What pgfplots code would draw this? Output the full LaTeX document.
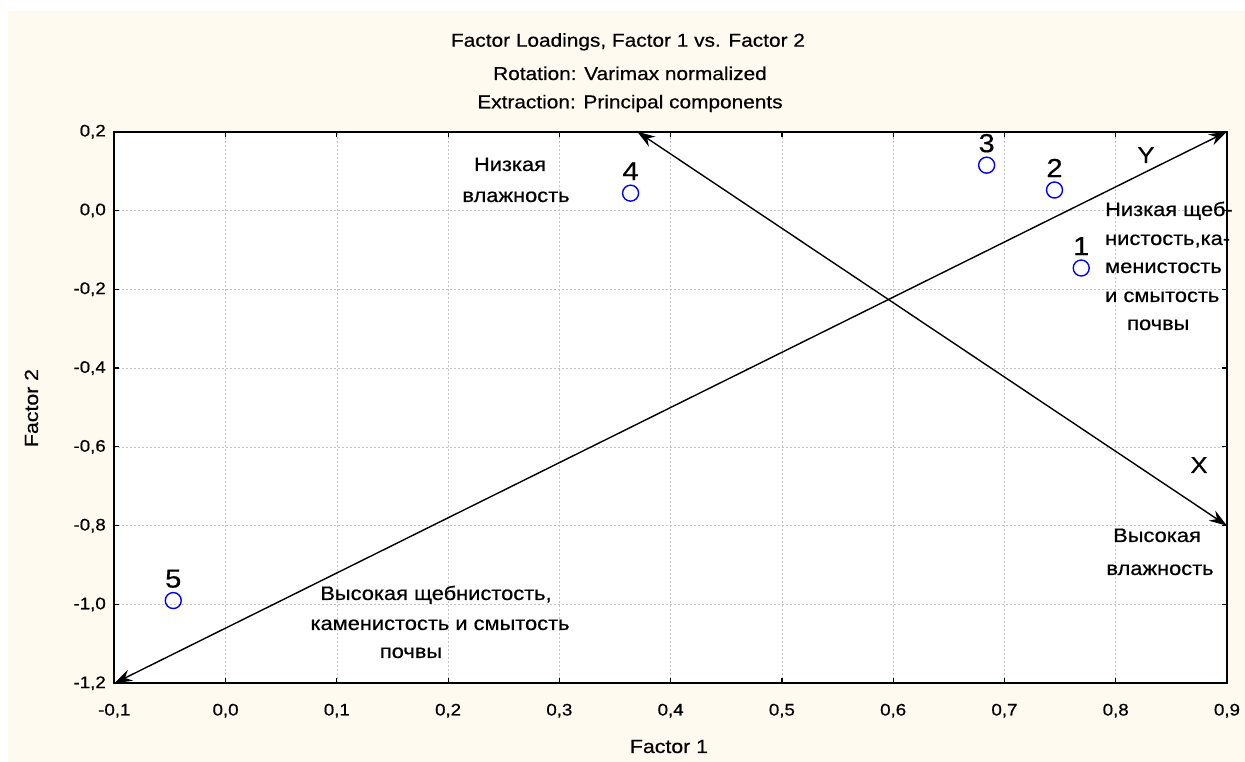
\documentclass[border=0pt]{standalone}
\usepackage{pgfplots}
\pgfplotsset{compat=1.18}
\usepackage{fontspec}
\setmainfont{Liberation Sans}[FakeStretch=1.12, FakeBold=0.5]
\usetikzlibrary{arrows.meta}
\definecolor{bgcream}{RGB}{255,250,240}
\definecolor{gridgray}{RGB}{195,195,195}
\newcommand{\fs}[1]{\fontsize{#1}{#1}\selectfont}
\begin{document}
\begin{tikzpicture}
\begin{scope}[x=1pt,y=1pt]
\fill[white] (0,0) rectangle (1245,762);
\fill[bgcream] (8,0) rectangle (1245,751);
\end{scope}
\begin{axis}[
  at={(114.3pt,78.7pt)}, anchor=south west,
  width=1112.7pt, height=551.6pt, scale only axis,
  xmin=-0.1, xmax=0.9, ymin=-1.2, ymax=0.2,
  xtick={-0.1,0,0.1,0.2,0.3,0.4,0.5,0.6,0.7,0.8,0.9},
  ytick={-1.2,-1,-0.8,-0.6,-0.4,-0.2,0,0.2},
  /pgf/number format/assume math mode=true,
  /pgf/number format/fixed, /pgf/number format/fixed zerofill,
  /pgf/number format/precision=1, /pgf/number format/use comma,
  ticklabel style={font=\fs{16.7}},
  xticklabel style={yshift=-17pt},
  yticklabel style={xshift=-5pt},
  axis background/.style={fill=white},
  grid=major,
  major grid style={gridgray, line width=0.6pt, dash pattern=on 2pt off 2pt},
  tick align=inside, major tick length=5pt,
  every tick/.style={black, line width=1.2pt},
  axis line style={black, line width=1.8pt},
  clip=false,
]
\addplot[black, line width=1.4pt, arrows={Stealth[length=18pt,width=12pt,inset=6pt]-Stealth[length=18pt,width=12pt,inset=6pt]}]
  coordinates {(-0.1,-1.2) (0.9,0.2)};
\addplot[black, line width=1.4pt, arrows={Stealth[length=18pt,width=12pt,inset=6pt]-Stealth[length=18pt,width=12pt,inset=6pt]}]
  coordinates {(0.370,0.2) (0.9,-0.8)};
\addplot[only marks, mark=o, mark size=8pt, blue, line width=1.4pt,
  nodes near coords, point meta=explicit symbolic,
  every node near coord/.style={anchor=base, yshift=13pt, text=black, font=\fs{26}, inner sep=0pt}]
  table[meta=lab] {
  x y lab
  0.769 -0.146 1
  0.745 0.052 2
  0.684 0.115 3
  0.364 0.044 4
  -0.047 -0.990 5
  };
\end{axis}
\begin{scope}[x=1pt,y=1pt, every node/.style={inner sep=0pt}]
\node[anchor=base, font=\fs{18.6}] at (628, 762-46.7) {Factor Loadings, Factor 1 vs. Factor 2};
\node[anchor=base, font=\fs{18.6}] at (630, 762-80) {Rotation: Varimax normalized};
\node[anchor=base, font=\fs{18.6}] at (630, 762-108.3) {Extraction: Principal components};
\node[anchor=base, font=\fs{19}] at (669, 762-753) {Factor 1};
\node[anchor=base, rotate=90, font=\fs{19}] at (38, 762-408) {Factor 2};
% annotations
\node[anchor=base, font=\fs{19.5}] at (510, 762-171) {Низкая};
\node[anchor=base, font=\fs{19.5}] at (516, 762-202) {влажность};
\node[anchor=base west, font=\fs{19.5}] at (1105, 762-216) {Низкая щеб-};
\node[anchor=base west, font=\fs{19.5}] at (1105, 762-245) {нистость,ка-};
\node[anchor=base west, font=\fs{19.5}] at (1105, 762-273) {менистость};
\node[anchor=base west, font=\fs{19.5}] at (1105, 762-302) {и смытость};
\node[anchor=base west, font=\fs{19.5}] at (1127, 762-330) {почвы};
\node[anchor=base, font=\fs{19.5}] at (1157, 762-542) {Высокая};
\node[anchor=base, font=\fs{19.5}] at (1160, 762-575) {влажность};
\node[anchor=base, font=\fs{19.5}] at (436, 762-600) {Высокая щебнистость,};
\node[anchor=base, font=\fs{19.5}] at (440, 762-630) {каменистость и смытость};
\node[anchor=base, font=\fs{19.5}] at (411, 762-658) {почвы};
\node[anchor=base, font=\fs{23}] at (1199, 762-473) {X};
\node[anchor=base, font=\fs{23}] at (1146, 762-163) {Y};
\end{scope}
\pgfresetboundingbox
\path (0,0) rectangle (1245pt,762pt);
\end{tikzpicture}
\end{document}
